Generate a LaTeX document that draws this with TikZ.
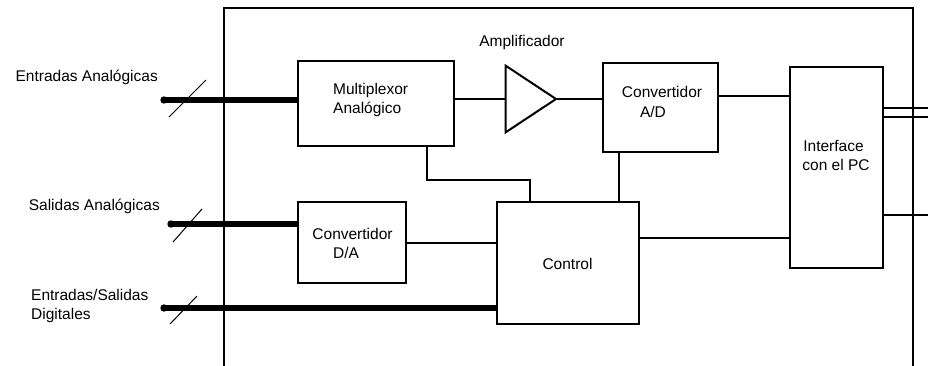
\documentclass[tikz,border=0pt]{standalone}
\usepackage{fontspec}
\setmainfont{Liberation Sans}
\begin{document}
\begin{tikzpicture}[x=1pt,y=-1pt,
  blk/.style={draw,line width=2pt,rectangle,inner sep=0pt,minimum width=#1},
  wire/.style={line width=2pt},
  bus/.style={line width=6pt},
  tick/.style={line width=1pt},
  txt/.style={inner sep=0pt,font=\fontsize{15.5}{18}\selectfont}]
\useasboundingbox (0,0) rectangle (928,365);
% outer enclosure
\draw[wire] (224,366) -- (224,8) -- (912.5,8) -- (912.5,366);
% blocks
\node[blk=156pt,minimum height=85pt] (mux) at (376,103.5) {};
\node[blk=115pt,minimum height=89pt] (adc) at (660.5,107.5) {};
\node[blk=93pt,minimum height=201pt] (iface) at (836.5,167.5) {};
\node[blk=142pt,minimum height=122pt] (ctrl) at (568,263) {};
\node[blk=108pt,minimum height=81pt] (dac) at (352,242.5) {};
% amplifier triangle
\coordinate (ampL) at (505.7,99);
\coordinate (ampT) at (556,99);
\draw[wire,line join=miter] (505.7,65.7) -- (ampT) -- (505.7,132.3) -- cycle;
% texts
\node[txt,anchor=west] (tmux1) at (333,90) {Multiplexor};
\node[txt,anchor=west] (tmux2) at (333,109) {Analógico};
\node[txt] (tamp) at (522,42) {Amplificador};
\node[txt] (tadc1) at (662,92) {Convertidor};
\node[txt] (tadc2) at (653,112) {A/D};
\node[txt] (tif1) at (833.5,146) {Interface};
\node[txt] (tif2) at (836,165) {con el PC};
\node[txt] (tctrl) at (567.5,264) {Control};
\node[txt] (tdac1) at (352.5,234) {Convertidor};
\node[txt] (tdac2) at (346,253) {D/A};
\node[txt,anchor=east] (lea) at (158,77) {Entradas Analógicas};
\node[txt,anchor=east] (lsa) at (160,206) {Salidas Analógicas};
\node[txt,anchor=west] (lio1) at (31,295) {Entradas/Salidas};
\node[txt,anchor=west] (lio2) at (31,315) {Digitales};
% helper coordinates
\coordinate (e1) at (164,100);
\coordinate (e2) at (171,224);
\coordinate (e3) at (164,308);
\coordinate (y96) at (700,96);
\coordinate (k1) at (427,180);
\coordinate (k2) at (530,180);
\coordinate (k3) at (619,180);
\coordinate (k5) at (700,238);
\coordinate (r1) at (928,107.5);
\coordinate (r2) at (928,116.5);
\coordinate (r3) at (928,215);
% buses
\draw[bus] (e1) -- (mux.west |- e1);
\draw[bus] (e2) -- (dac.west |- e2);
\draw[bus] (e3) -- (ctrl.west |- e3);
\fill (e1) circle (3.7);
\fill (e2) circle (3.7);
\fill (e3) circle (3.7);
\draw[tick] (169,117) -- (206,80);
\draw[tick] (173,242) -- (202,209);
\draw[tick] (170,324) -- (197,296);
% connections
\draw[wire] (mux.east |- ampL) -- (ampL);
\draw[wire] (ampT) -- (adc.west |- ampT);
\draw[wire] (adc.east |- y96) -- (iface.west |- y96);
\draw[wire] (mux.south -| k1) -- (k1) -- (k2) -- (ctrl.north -| k2);
\draw[wire] (adc.south -| k3) -- (ctrl.north -| k3);
\draw[wire] (dac.east) -- (ctrl.west |- dac.east);
\draw[wire] (ctrl.east |- k5) -- (iface.west |- k5);
\draw[wire] (iface.east |- r1) -- (r1);
\draw[wire] (iface.east |- r2) -- (r2);
\draw[wire] (iface.east |- r3) -- (r3);
\end{tikzpicture}
\end{document}
